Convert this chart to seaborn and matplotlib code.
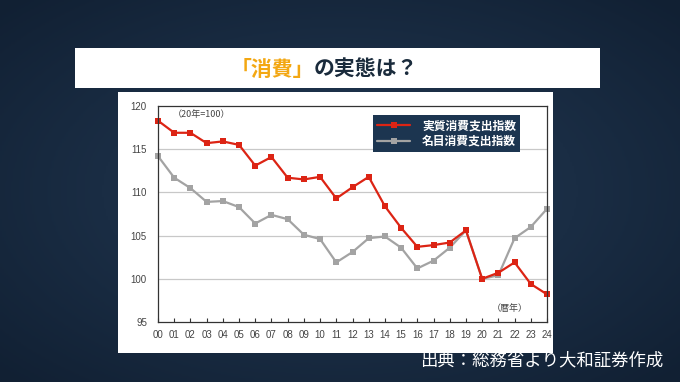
import numpy as np
import pandas as pd
import matplotlib.pyplot as plt
from matplotlib.patches import Rectangle
import seaborn as sns

years = list(range(0, 25))
year_labels = [f'{y:02d}' for y in years]
real_index = [118.3, 116.9, 116.9, 115.7, 115.9, 115.5, 113.1, 114.1, 111.7, 111.5,
              111.8, 109.3, 110.6, 111.8, 108.4, 105.9, 103.7, 103.9, 104.2, 105.6,
              100.0, 100.7, 101.9, 99.4, 98.2]
nominal_index = [114.2, 111.7, 110.5, 108.9, 109.0, 108.3, 106.4, 107.4, 106.9, 105.1,
                 104.6, 101.9, 103.1, 104.7, 104.9, 103.6, 101.2, 102.1, 103.6, 105.6,
                 100.0, 100.4, 104.7, 106.0, 108.1]
series_names = ['実質消費支出指数', '名目消費支出指数']
series_colors = {series_names[0]: '#dc2414', series_names[1]: '#a3a3a3'}

df = pd.concat([
    pd.DataFrame({'year': years, 'value': real_index, 'series': series_names[0]}),
    pd.DataFrame({'year': years, 'value': nominal_index, 'series': series_names[1]}),
])

sns.set_theme(style='white')
plt.rcParams['font.family'] = ['Noto Sans CJK JP', 'DejaVu Sans']

W, H = 680, 382
fig = plt.figure(figsize=(6.8, 3.82), dpi=100)
fig.patch.set_facecolor('#1c3048')

# dark background with a soft vignette
bg = fig.add_axes([0, 0, 1, 1])
yy, xx = np.mgrid[-1:1:200j, -1:1:360j]
vign = np.sqrt(xx ** 2 + yy ** 2)
bg.imshow(vign, cmap=sns.blend_palette(['#223a55', '#1a2d44', '#112033'], as_cmap=True),
          aspect='auto', extent=[0, 1, 0, 1], vmin=0, vmax=1.4)
bg.set_axis_off()

def fx(px):
    return px / W

def fy(py):
    return 1 - py / H

# title box
fig.patches.append(Rectangle((fx(75), fy(88)), fx(600) - fx(75), fy(48) - fy(88),
                             transform=fig.transFigure, facecolor='white', edgecolor='none', zorder=1))
fig.text(fx(314), fy(69), '「消費」', color='#f3a712', fontsize=15, fontweight='bold',
         ha='right', va='center', zorder=2)
fig.text(fx(314), fy(69), 'の実態は？', color='#1a2b3c', fontsize=15, fontweight='bold',
         ha='left', va='center', zorder=2)

# white chart panel
fig.patches.append(Rectangle((fx(118), fy(353)), fx(553) - fx(118), fy(92) - fy(353),
                             transform=fig.transFigure, facecolor='white', edgecolor='none', zorder=1))

ax = fig.add_axes([fx(158), fy(322), fx(547) - fx(158), fy(106) - fy(322)])
ax.set_facecolor('white')
ax.set_zorder(3)

# gray first, red drawn on top
draw_order = [series_names[1], series_names[0]]
sns.lineplot(data=df, x='year', y='value', hue='series', style='series',
             palette=series_colors, markers=['s', 's'], dashes=False,
             linewidth=1.6, markersize=4.5, markeredgewidth=0, ax=ax, clip_on=False,
             hue_order=draw_order, style_order=draw_order)

ax.set_xlim(0, 24)
ax.set_ylim(95, 120)
ax.set_yticks([95, 100, 105, 110, 115, 120])
ax.set_xticks(years)
ax.set_xticklabels(year_labels)
ax.set_xlabel('')
ax.set_ylabel('')
for y in [100, 105, 110, 115]:
    ax.axhline(y, color='#c8c8c8', linewidth=0.9, zorder=0)
for s in ax.spines.values():
    s.set_color('#333333')
    s.set_linewidth(0.9)
ax.tick_params(axis='both', labelsize=7, colors='#333333', labelcolor='#444444')
ax.tick_params(axis='x', direction='in', length=3, width=0.8, bottom=True, pad=6)
ax.tick_params(axis='y', length=0, pad=8)
for lab in ax.get_xticklabels() + ax.get_yticklabels():
    lab.set_family(['Liberation Sans', 'DejaVu Sans'])

ax.text(fx(173), fy(114), '（20年=100）', transform=fig.transFigure, fontsize=6.5,
        color='#444444', ha='left', va='center')
ax.text(fx(510), fy(308), '（暦年）', transform=fig.transFigure, fontsize=6.5,
        color='#444444', ha='center', va='center')

handles, labels = ax.get_legend_handles_labels()
order = [labels.index(n) for n in series_names]
leg = ax.legend([handles[i] for i in order], [labels[i] for i in order],
                loc='upper left', bbox_to_anchor=(fx(373), fy(115)), bbox_transform=fig.transFigure,
                borderaxespad=0, frameon=True, fancybox=False, facecolor='#1c3550', edgecolor='none',
                framealpha=1, fontsize=8.5, handlelength=2.8, borderpad=0.35, labelspacing=0.25,
                handletextpad=1.0)
for t in leg.get_texts():
    t.set_color('white')
    t.set_fontweight('bold')

fig.text(fx(663), fy(360), '出典：総務省より大和証券作成', color='white', fontsize=12.5,
         ha='right', va='center')

fig.savefig('out.png', dpi=100, facecolor=fig.get_facecolor())
